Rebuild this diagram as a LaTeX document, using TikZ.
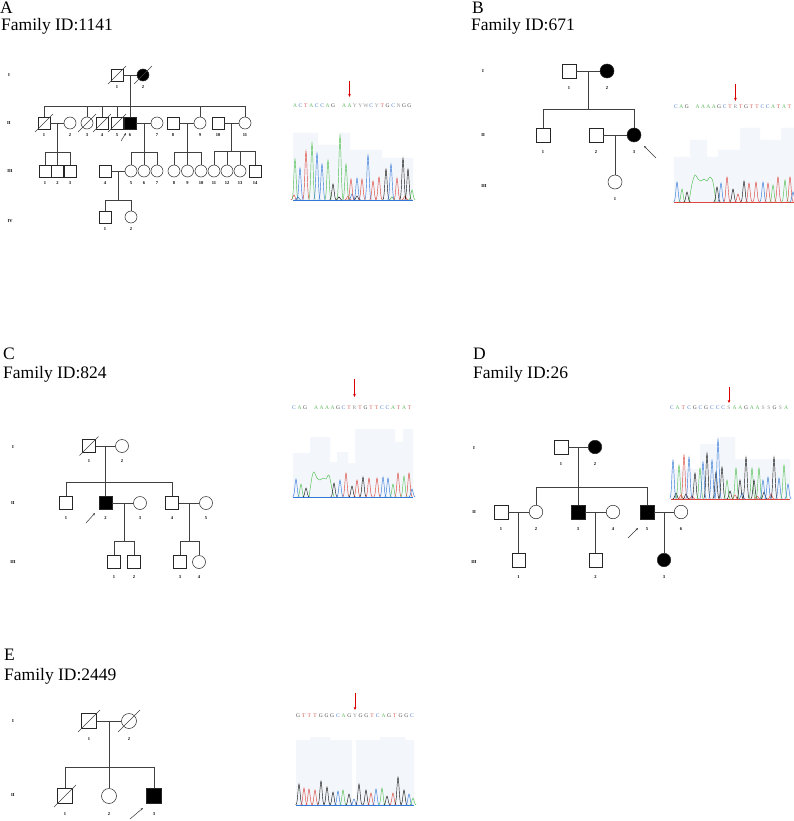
\documentclass[tikz,border=0pt]{standalone}
\usepackage{fontspec}
\setmainfont{Liberation Serif}
\usetikzlibrary{calc,arrows.meta}

\definecolor{seqA}{RGB}{95,185,95}
\definecolor{seqC}{RGB}{75,125,210}
\definecolor{seqG}{RGB}{70,70,70}
\definecolor{seqT}{RGB}{215,90,80}
\definecolor{seqN}{RGB}{150,150,150}
\definecolor{trG}{RGB}{80,190,80}
\definecolor{trB}{RGB}{50,120,215}
\definecolor{trR}{RGB}{220,70,60}
\definecolor{trK}{RGB}{20,20,20}
\definecolor{chbg}{RGB}{243,246,250}

\tikzset{
  ind/.style={draw=black!85,line width=.5pt,inner sep=0pt,minimum size=12pt},
  male/.style={ind,rectangle},
  female/.style={ind,circle},
  aff/.style={fill=black},
  rel/.style={draw=black!75,line width=.5pt},
  gen/.style={font=\fontsize{4.5}{5}\selectfont\bfseries,inner sep=0pt},
  num/.style={font=\fontsize{4.5}{5}\selectfont\bfseries,inner sep=0pt},
  every label/.style={num},
  head/.style={font=\fontsize{17.5}{20}\selectfont,anchor=base west,inner sep=0pt},
  prb/.style={draw=black!80,line width=.5pt,-{Stealth[length=2.5pt,width=2pt]}},
  mut/.style={draw=red!85!black,line width=.8pt,-{Stealth[length=3.2pt,width=2.8pt]}},
  seq/.style={font=\fontsize{5.5}{6}\selectfont,inner sep=0pt},
  bA/.style={text=seqA}, bC/.style={text=seqC}, bG/.style={text=seqG}, bT/.style={text=seqT},
  bY/.style={text=seqN}, bW/.style={text=seqN}, bN/.style={text=seqN}, bR/.style={text=seqN}, bS/.style={text=seqN},
  trace/.style={line width=.45pt},
}

% one peak of a trace: colour, x, height above the baseline
\newcommand\chpk[3]{\draw[trace,#1] plot[smooth,domain=-3.2:3.2,samples=9] ({#2+\x},{-#3*exp(-\x*\x/2.2)});}

\begin{document}
\begin{tikzpicture}[x=1pt,y=-1pt]
\path[fill=white,use as bounding box] (0,0) rectangle (794,821);

%% A
\node[head] (ttlA) at (0,13.5) {A};
\node[head] (fidA) at (1,31) {Family ID:1141};
\node[gen] (agI) at (9,75) {I};
\node[gen] (agII) at (9,123) {II};
\node[gen] (agIII) at (10,171) {III};
\node[gen] (agIV) at (10,221) {IV};

\begin{scope}[label distance=4.5pt]
\node[male,label=below:1] (aI1) at (117,75) {};
\node[female,aff,label=below:2] (aI2) at (143,75) {};
\node[male,label=below:1] (aII1) at (44,123) {};
\node[female,label=below:2] (aII2) at (70,123) {};
\node[female,label=below:3] (aII3) at (87,123) {};
\node[male,label=below:4] (aII4) at (102,123) {};
\node[male,label=below:5] (aII5) at (117,123) {};
\node[male,aff,label=below:6] (aII6) at (130,123) {};
\node[female,label=below:7] (aII7) at (157,123) {};
\node[male,label=below:8] (aII8) at (173,123) {};
\node[female,label=below:9] (aII9) at (200,123) {};
\node[male,label=below:10] (aII10) at (218,123) {};
\node[female,label=below:11] (aII11) at (245,123) {};
\foreach \k/\p in {1/45,2/57.5,3/70,4/105}
  \node[male,label=below:\k] (aIII\k) at (\p,171) {};
\foreach \k/\p in {5/131,6/144,7/157,8/174,9/187.5,10/201,11/214,12/227,13/240}
  \node[female,label=below:\k] (aIII\k) at (\p,171) {};
\node[male,label=below:14] (aIII14) at (255,171) {};
\node[male,label=below:1] (aIV1) at (105,217) {};
\node[female,label=below:2] (aIV2) at (131,217) {};
\end{scope}

\draw[rel] (aI1) -- (aI2);
\coordinate (asib) at (130,106);
\draw[rel] (asib |- aI1) -- (asib);
\draw[rel] (aII1 |- asib) -- (aII11 |- asib);
\foreach \k in {1,3,4,5,6,9,11} \draw[rel] (aII\k) -- (aII\k |- asib);

\draw[rel] (aII1) -- (aII2);
\coordinate (as1) at (57.5,152);
\draw[rel] (as1 |- aII1) -- (as1);
\draw[rel] (aIII1 |- as1) -- (aIII3 |- as1);
\foreach \k in {1,2,3} \draw[rel] (aIII\k) -- (aIII\k |- as1);

\draw[rel] (aII6) -- (aII7);
\coordinate (as2) at (144,152);
\draw[rel] (as2 |- aII6) -- (as2);
\draw[rel] (aIII5 |- as2) -- (aIII7 |- as2);
\foreach \k in {5,6,7} \draw[rel] (aIII\k) -- (aIII\k |- as2);

\draw[rel] (aII8) -- (aII9);
\coordinate (as3) at (187.5,152);
\draw[rel] (as3 |- aII8) -- (as3);
\draw[rel] (aIII8 |- as3) -- (aIII10 |- as3);
\foreach \k in {8,9,10} \draw[rel] (aIII\k) -- (aIII\k |- as3);

\draw[rel] (aII10) -- (aII11);
\coordinate (as4) at (231.5,151);
\draw[rel] (as4 |- aII10) -- (as4);
\draw[rel] (aIII11 |- as4) -- (aIII14 |- as4);
\foreach \k in {11,12,13,14} \draw[rel] (aIII\k) -- (aIII\k |- as4);

\draw[rel] (aIII4) -- (aIII5);
\coordinate (as5) at (118,200);
\draw[rel] (as5 |- aIII4) -- (as5);
\draw[rel] (aIV1 |- as5) -- (aIV2 |- as5);
\foreach \k in {1,2} \draw[rel] (aIV\k) -- (aIV\k |- as5);

\foreach \n in {aI1,aI2,aII1,aII3,aII4,aII5} \draw[rel] ($(\n)+(-9,9)$) -- ($(\n)+(9,-9)$);
\coordinate (aa0) at (121,141);
\coordinate (aa1) at (126,133);
\draw[prb] (aa0) -- (aa1);

\foreach \b [count=\i from 0] in {A,C,T,A,C,C,A,G}
  \node[seq,b\b] (sqa\i) at ({295+5.45*\i},106) {\b};
\foreach \b [count=\i from 9] in {A,A,Y,Y,W,C,Y,T,G,C,N,G,G}
  \node[seq,b\b] (sqa\i) at ({295+5.45*\i},106) {\b};
\coordinate (mua) at ($(sqa10)+(0,-25)$);
\draw[mut] (mua) -- ($(sqa10)+(0,-9)$);

\begin{scope}[shift={(0,200)}]
\fill[chbg] (293,0) -- (293,-67) -- (318,-67) -- (318,-55) -- (340,-55) -- (340,-67) -- (350,-67)
  -- (350,-50) -- (382,-50) -- (382,-42) -- (413,-42) -- (413,0) -- cycle;
\draw[trace,trB] (293,0) -- (413,0);
\foreach \c/\p/\h in {trR/294/5,trB/298/3,trK/339/3,trR/348/4,trB/352/6,trK/357/4,trG/392/3,trR/405/4,
  trG/295/41,trB/300/32,trR/306/49,trG/312/57,trB/317/47,trB/322/36,trG/328/40,trK/333/16,
  trG/340/65,trG/346/36,trR/351/21,trB/357/22,trR/362/21,trB/368/45,trR/373/19,trR/379/23,
  trK/386/31,trB/391/36,trR/397/22,trK/403/42,trK/408/31,trG/412/10}
  {\chpk{\c}{\p}{\h}}
\end{scope}

%% B
\node[head] (ttlB) at (472,13.5) {B};
\node[head] (fidB) at (471,31) {Family ID:671};
\node[gen] (bgI) at (483,71) {I};
\node[gen] (bgII) at (483,135) {II};
\node[gen] (bgIII) at (484,186) {III};

\begin{scope}[ind/.append style={minimum size=14pt},label distance=8.5pt]
\node[male,label=below:1] (bI1) at (569,71) {};
\node[female,aff,label=below:2] (bI2) at (607,71) {};
\node[male,label=below:1] (bII1) at (543,135) {};
\node[male,label=below:2] (bII2) at (596,135) {};
\node[female,aff,label=below:3] (bII3) at (634,135) {};
\node[female,label=below:1] (bIII1) at (615,182) {};
\end{scope}

\draw[rel] (bI1) -- (bI2);
\coordinate (bsib) at (588,109);
\draw[rel] (bsib |- bI1) -- (bsib);
\draw[rel] (bII1 |- bsib) -- (bII3 |- bsib);
\foreach \k in {1,3} \draw[rel] (bII\k) -- (bII\k |- bsib);
\draw[rel] (bII2) -- (bII3);
\draw[rel] (bIII1 |- bII2) -- (bIII1);
\coordinate (ba0) at (656,158);
\coordinate (ba1) at (644,146);
\draw[prb] (ba0) -- (ba1);

\foreach \b [count=\i from 0] in {C,A,G}
  \node[seq,b\b] (sqb\i) at ({676+5.4*\i},107) {\b};
\foreach \b [count=\i from 4] in {A,A,A,A,G,C,T,R,T,G,T,T,C,C,A,T,A,T}
  \node[seq,b\b] (sqb\i) at ({676+5.4*\i},107) {\b};
\coordinate (mub) at ($(sqb11)+(0,-23)$);
\draw[mut] (mub) -- ($(sqb11)+(0,-6)$);

\begin{scope}[shift={(0,202)}]
\fill[chbg] (674,0) -- (674,-45) -- (690,-45) -- (690,-62) -- (707,-62) -- (707,-45) -- (718,-45)
  -- (718,-52) -- (740,-52) -- (740,-74) -- (760,-74) -- (760,-62) -- (781,-62) -- (781,-74)
  -- (794,-74) -- (794,0) -- cycle;
\draw[trace,trR] (674,0) -- (794,0);
\draw[trace,trG] plot[smooth] coordinates {(689,0) (692,-18) (695,-27) (698,-23) (701,-21)
  (704,-23) (707,-21) (710,-25) (713,-20) (716,0)};
\foreach \c/\p/\h in {trB/677/20,trG/682/13,trK/687/10,trK/717/15,trB/721/19,trR/727/25,
  trK/733/13,trR/738/8,trK/744/21,trR/749/19,trR/756/20,trB/763/20,trR/768/19,trG/773/17,
  trR/778/25,trG/785/22,trR/790/25,trB/793/10}
  {\chpk{\c}{\p}{\h}}
\end{scope}

%% C
\node[head] (ttlC) at (3,359) {C};
\node[head] (fidC) at (3,378) {Family ID:824};
\node[gen] (cgI) at (13,447) {I};
\node[gen] (cgII) at (13,503) {II};
\node[gen] (cgIII) at (13,562) {III};

\begin{scope}[ind/.append style={minimum size=13pt},label distance=7pt]
\node[male,label=below:1] (cI1) at (89,446) {};
\node[female,label=below:2] (cI2) at (122,446) {};
\node[male,label=below:1] (cII1) at (66,503) {};
\node[male,aff,label=below:2] (cII2) at (105.5,503) {};
\node[female,label=below:3] (cII3) at (140,503) {};
\node[male,label=below:4] (cII4) at (172,503) {};
\node[female,label=below:5] (cII5) at (206,503) {};
\node[male,label=below:1] (cIII1) at (114,562) {};
\node[male,label=below:2] (cIII2) at (134,562) {};
\node[male,label=below:3] (cIII3) at (180,562) {};
\node[female,label=below:4] (cIII4) at (199,562) {};
\end{scope}

\draw[rel] (cI1) -- (cI2);
\coordinate (csib) at (105.5,482);
\draw[rel] (csib |- cI1) -- (csib);
\draw[rel] (cII1 |- csib) -- (cII4 |- csib);
\foreach \k in {1,2,4} \draw[rel] (cII\k) -- (cII\k |- csib);
\draw[rel] (cII2) -- (cII3);
\coordinate (cs1) at (124,541);
\draw[rel] (cs1 |- cII2) -- (cs1);
\draw[rel] (cIII1 |- cs1) -- (cIII2 |- cs1);
\foreach \k in {1,2} \draw[rel] (cIII\k) -- (cIII\k |- cs1);
\draw[rel] (cII4) -- (cII5);
\coordinate (cs2) at (189,541);
\draw[rel] (cs2 |- cII4) -- (cs2);
\draw[rel] (cIII3 |- cs2) -- (cIII4 |- cs2);
\foreach \k in {3,4} \draw[rel] (cIII\k) -- (cIII\k |- cs2);
\draw[rel] ($(cI1)+(-9.5,9.5)$) -- ($(cI1)+(9.5,-9.5)$);
\coordinate (ca0) at (86,523);
\coordinate (ca1) at (95,513);
\draw[prb] (ca0) -- (ca1);

\foreach \b [count=\i from 0] in {C,A,G}
  \node[seq,b\b] (sqc\i) at ({294+5.5*\i},408) {\b};
\foreach \b [count=\i from 4] in {A,A,A,A,G,C,T,R,T,G,T,T,C,C,A,T,A,T}
  \node[seq,b\b] (sqc\i) at ({294+5.5*\i},408) {\b};
\coordinate (muc) at ($(sqc11)+(0,-29)$);
\draw[mut] (muc) -- ($(sqc11)+(0,-11)$);

\begin{scope}[shift={(0,497)}]
\fill[chbg] (293,0) -- (293,-44) -- (310,-44) -- (310,-60) -- (330,-60) -- (330,-35) -- (337,-35)
  -- (337,-45) -- (348,-45) -- (348,-34) -- (355,-34) -- (355,-68) -- (395,-68) -- (395,-55)
  -- (403,-55) -- (403,-68) -- (413,-68) -- (413,0) -- cycle;
\draw[trace,trB] (293,0) -- (413,0);
\draw[trace,trG] plot[smooth] coordinates {(309,0) (312,-20) (314,-25) (317,-19) (320,-17)
  (323,-19) (326,-18) (329,-22) (332,-8) (334,0)};
\foreach \c/\p/\h in {trB/296/18,trG/301/13,trK/306/9,trK/334/14,trB/340/17,trR/346/24,
  trK/352/11,trR/357/17,trK/363/20,trR/369/19,trR/377/19,trB/383/20,trB/388/19,trG/393/13,
  trR/398/24,trG/404/21,trR/409/24,trB/412/8}
  {\chpk{\c}{\p}{\h}}
\end{scope}

%% D
\node[head] (ttlD) at (473,359) {D};
\node[head] (fidD) at (473,378) {Family ID:26};
\node[gen] (dgI) at (474,448) {I};
\node[gen] (dgII) at (474,512) {II};
\node[gen] (dgIII) at (474,562) {III};

\begin{scope}[ind/.append style={minimum size=13.5pt},label distance=8pt]
\node[male,label=below:1] (dI1) at (561,447) {};
\node[female,aff,label=below:2] (dI2) at (595,447) {};
\node[male,label=below:1] (dII1) at (501,512) {};
\node[female,label=below:2] (dII2) at (536,512) {};
\node[male,aff,label=below:3] (dII3) at (578,512) {};
\node[female,label=below:4] (dII4) at (613,512) {};
\node[male,aff,label=below:5] (dII5) at (647,512) {};
\node[female,label=below:6] (dII6) at (681,512) {};
\node[male,label=below:1] (dIII1) at (518.5,560) {};
\node[male,label=below:2] (dIII2) at (595.5,560) {};
\node[female,aff,label=below:3] (dIII3) at (664,560) {};
\end{scope}

\draw[rel] (dI1) -- (dI2);
\coordinate (dsib) at (578,487);
\draw[rel] (dsib |- dI1) -- (dsib);
\draw[rel] (dII2 |- dsib) -- (dII5 |- dsib);
\foreach \k in {2,3,5} \draw[rel] (dII\k) -- (dII\k |- dsib);
\draw[rel] (dII1) -- (dII2);
\draw[rel] (dIII1 |- dII1) -- (dIII1);
\draw[rel] (dII3) -- (dII4);
\draw[rel] (dIII2 |- dII3) -- (dIII2);
\draw[rel] (dII5) -- (dII6);
\draw[rel] (dIII3 |- dII5) -- (dIII3);
\coordinate (da0) at (628,538);
\coordinate (da1) at (638,528);
\draw[prb] (da0) -- (da1);

\foreach \b [count=\i from 0] in {C,A,T,C,G,C,G,C,C,C,S,A,A,G,A,A,S,S,G,S,A}
  \node[seq,b\b] (sqd\i) at ({672+5.7*\i},408) {\b};
\coordinate (mud) at ($(sqd10)+(0,-21)$);
\draw[mut] (mud) -- ($(sqd10)+(0,-5)$);

\begin{scope}[shift={(0,499)}]
\fill[chbg] (671,0) -- (671,-30) -- (700,-30) -- (700,-55) -- (720,-55) -- (720,-62) -- (735,-62)
  -- (735,-40) -- (790,-40) -- (790,0) -- cycle;
\draw[trace,trR] (671,0) -- (790,0);
\foreach \c/\p/\h in {trK/676/6,trR/681/4,trK/686/5,trR/692/3,trK/730/8,trR/735/4,trB/742/6,
  trR/757/3,trK/764/7,trR/771/5,
  trB/673/39,trG/679/34,trR/684/44,trB/689/42,trK/695/26,trG/700/31,trB/703/37,trK/707/46,
  trB/712/39,trK/716/27,trB/718/60,trK/722/32,trG/727/19,trG/736/31,trK/740/19,trK/746/42,
  trG/752/31,trK/754/19,trG/759/31,trB/763/19,trB/768/22,trK/774/42,trB/779/21,trG/784/34,
  trB/788/15}
  {\chpk{\c}{\p}{\h}}
\end{scope}

%% E
\node[head] (ttlE) at (4,660) {E};
\node[head] (fidE) at (4,680) {Family ID:2449};
\node[gen] (egI) at (13,721) {I};
\node[gen] (egII) at (13,795) {II};

\begin{scope}[ind/.append style={minimum size=15pt},label distance=8.5pt]
\node[male,label=below:1] (eI1) at (89,721) {};
\node[female,label=below:2] (eI2) at (129,721) {};
\node[male,label=below:1] (eII1) at (65,796) {};
\node[female,label=below:2] (eII2) at (109,796) {};
\node[male,aff,label=below:3] (eII3) at (154,796) {};
\end{scope}

\draw[rel] (eI1) -- (eI2);
\coordinate (esib) at (109,767);
\draw[rel] (esib |- eI1) -- (esib);
\draw[rel] (eII1 |- esib) -- (eII3 |- esib);
\foreach \k in {1,2,3} \draw[rel] (eII\k) -- (eII\k |- esib);
\foreach \n in {eI1,eI2,eII1} \draw[rel] ($(\n)+(-11,11)$) -- ($(\n)+(11,-11)$);
\coordinate (ea0) at (130,819);
\coordinate (ea1) at (143,808);
\draw[prb] (ea0) -- (ea1);

\foreach \b [count=\i from 0] in {G,T,T,T,G,G,G,C,A,G,Y,G,G,T,C,A,G,T,G,G,C}
  \node[seq,b\b] (sqe\i) at ({298+5.7*\i},716) {\b};
\coordinate (mue) at ($(sqe10)+(0,-23)$);
\draw[mut] (mue) -- ($(sqe10)+(0,-6)$);

\begin{scope}[shift={(0,805)}]
\fill[chbg] (296,0) -- (296,-65) -- (310,-65) -- (310,-68) -- (330,-68) -- (330,-65) -- (352,-65)
  -- (352,0) -- cycle;
\fill[chbg] (356,0) -- (356,-65) -- (380,-65) -- (380,-68) -- (405,-68) -- (405,-65) -- (414,-65)
  -- (414,0) -- cycle;
\draw[trace,trB] (296,0) -- (414,0);
\foreach \c/\p/\h in {trK/299/21,trR/304/17,trR/309/16,trR/315/15,trK/321/24,trK/327/18,
  trK/333/13,trB/338/14,trG/343/15,trK/349/11,trB/354/6,trK/359/21,trK/366/15,trR/371/12,
  trB/376/16,trG/382/17,trK/387/9,trR/393/12,trK/398/28,trK/404/15,trB/409/11,trG/413/7}
  {\chpk{\c}{\p}{\h}}
\end{scope}

\end{tikzpicture}
\end{document}
